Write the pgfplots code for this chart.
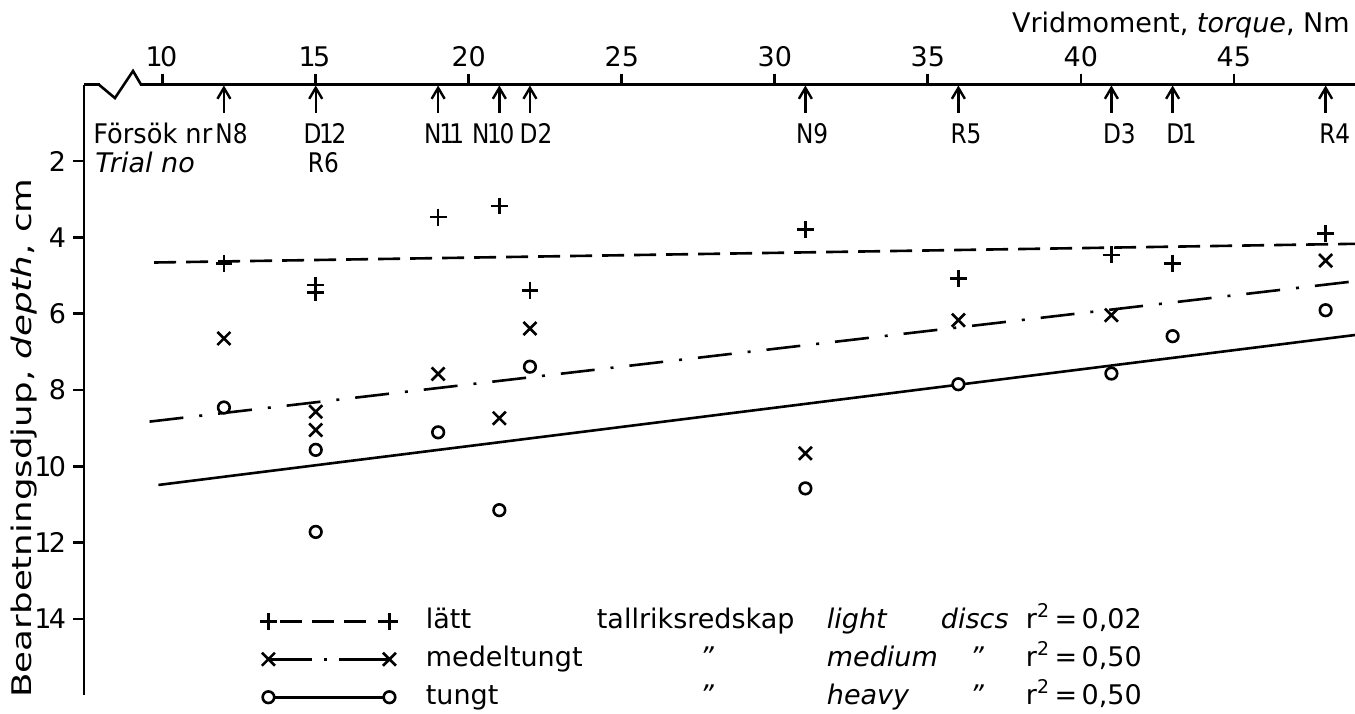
\documentclass[border=0pt]{standalone}
\usepackage{fontspec}
\setmainfont{DejaVu Sans}
\usepackage{graphicx}
\usepackage{pgfplots}
\pgfplotsset{compat=1.18}
\usetikzlibrary{arrows.meta}
\newcommand{\f}{\fontsize{13.5}{16}\selectfont}
\newcommand{\one}{\kern-0.1em1\kern-0.1em}
\newcommand{\nb}[1]{\scalebox{0.86}[1]{#1}}
\begin{document}
\begin{tikzpicture}[font=\f]
\begin{axis}[
  scale only axis, width=635.4pt, height=305.2pt,
  xmin=7.428, xmax=48.96, ymin=0, ymax=16,
  y dir=reverse,
  axis x line*=top, axis y line*=left,
  axis line style={line width=1.3pt, black},
  tick align=outside, major tick length=5.5pt,
  tick style={line width=1.3pt, black},
  xtick={10,15,...,45}, ytick={2,4,...,14},
  xticklabels={\one0,\one5,20,25,30,35,40,45},
  yticklabels={2,4,6,8,\one0,\one2,\one4},
  tick label style={font=\f},
  clip=false,
  legend style={draw=none, fill=none, inner sep=0pt, outer sep=0pt,
    at={(axis cs:13.18,13.72)}, anchor=north west,
    cells={anchor=west}, row sep=6pt, font=\f,
    nodes={inner sep=0pt, text height=10pt, text depth=3pt},
    /tikz/every odd column/.append style={column sep=14pt}},
]
% regression lines
\addplot[line width=1.3pt, dash pattern=on 11pt off 5pt,
  legend image code/.code={\draw[line width=1.3pt, dash pattern=on 0pt off 6pt on 11pt off 5pt on 11pt off 5pt on 11pt off 6pt on 6pt]
     plot[mark=+, mark size=4.2pt, mark options={solid}] coordinates {(0pt,0pt) (60.5pt,0pt)};}]
  coordinates {(9.72,4.66) (48.96,4.17)};
\addlegendentry{\makebox[85.5pt][l]{lätt}\makebox[115pt][l]{tallriksredskap}\makebox[57pt][l]{\textit{light}}\makebox[42.5pt][l]{\textit{discs}}r\textsuperscript{2}\,=\,0,02}
\addplot[line width=1.3pt, dash pattern=on 17pt off 8pt on 1.5pt off 8pt,
  legend image code/.code={\draw[line width=1.3pt, dash pattern=on 22pt off 6pt on 1.5pt off 6pt on 30pt]
     plot[mark=x, mark size=4.6pt, mark options={solid}] coordinates {(0pt,0pt) (60.5pt,0pt)};}]
  coordinates {(9.57,8.83) (48.96,5.15)};
\addlegendentry{\makebox[85.5pt][l]{medeltungt}\makebox[115pt][l]{\hspace*{51.5pt}\textit{"}}\makebox[57pt][l]{\textit{medium}}\makebox[42.5pt][l]{\hspace*{14.5pt}\textit{"}}r\textsuperscript{2}\,=\,0,50}
\addplot[line width=1.3pt,
  legend image code/.code={\draw[line width=1.3pt]
     plot[mark=*, mark size=2.9pt, mark options={solid, fill=white, draw=black}] coordinates {(0pt,0pt) (60.5pt,0pt)};}]
  coordinates {(9.86,10.49) (48.96,6.56)};
\addlegendentry{\makebox[85.5pt][l]{tungt}\makebox[115pt][l]{\hspace*{51.5pt}\textit{"}}\makebox[57pt][l]{\textit{heavy}}\makebox[42.5pt][l]{\hspace*{14.5pt}\textit{"}}r\textsuperscript{2}\,=\,0,50}
% data points
\addplot[only marks, mark=+, mark size=4.2pt, line width=1.3pt, forget plot] coordinates {
 (12,4.68) (15,5.25) (15,5.45) (19,3.47) (21,3.18) (22,5.40) (31,3.79) (36,5.08) (41,4.46) (43,4.68) (48,3.90)};
\addplot[only marks, mark=x, mark size=4.6pt, line width=1.3pt, forget plot] coordinates {
 (12,6.65) (15,8.57) (15,9.05) (19,7.58) (21,8.74) (22,6.39) (31,9.66) (36,6.17) (41,6.04) (48,4.61)};
\addplot[only marks, mark=*, mark size=2.9pt, line width=1.3pt, mark options={fill=white, draw=black}, forget plot] coordinates {
 (12,8.46) (15,9.57) (15,11.72) (19,9.11) (21,11.15) (22,7.39) (31,10.58) (36,7.85) (41,7.57) (43,6.59) (48,5.91)};
% trial arrows
\addplot[line width=1.2pt, -{Straight Barb[length=5.5pt,width=6.5pt]}, quiver={u=0,v=-0.72}, forget plot] coordinates {
 (12,0.74) (15,0.74) (19,0.74) (21,0.74) (22,0.74) (31,0.74) (36,0.74) (41,0.74) (43,0.74) (48,0.74)};
% texts
\begin{scope}[every node/.style={inner sep=0pt}]
\node[anchor=base east] at (axis cs:48.80,-1.38) {Vridmoment, \textit{torque}, Nm};
\node[anchor=base west] at (axis cs:7.72,1.53) {\scalebox{0.95}[1]{Försök nr}};
\node[anchor=base west] at (axis cs:7.79,2.29) {\textit{Trial no}};
\node[anchor=base] at (axis cs:12.25,1.53) {\nb{N8}};
\node[anchor=base] at (axis cs:15.3,1.53) {\nb{D\one2}};
\node[anchor=base] at (axis cs:15.25,2.29) {\nb{R6}};
\node[anchor=base] at (axis cs:19.16,1.53) {\nb{N\one\one}};
\node[anchor=base] at (axis cs:20.8,1.53) {\nb{N\one0}};
\node[anchor=base] at (axis cs:22.2,1.53) {\nb{D2}};
\node[anchor=base] at (axis cs:31.22,1.53) {\nb{N9}};
\node[anchor=base] at (axis cs:36.25,1.53) {\nb{R5}};
\node[anchor=base] at (axis cs:41.26,1.53) {\nb{D3}};
\node[anchor=base] at (axis cs:43.25,1.53) {\nb{D\one}};
\node[anchor=base] at (axis cs:48.3,1.53) {\nb{R4}};
\node[rotate=90, anchor=base] at (axis cs:5.696,9.26) {\scalebox{1.32}[1.0]{Bearbetningsdjup, \textit{depth}, cm}};
\end{scope}
\coordinate (z0) at (axis cs:7.95,0);
\coordinate (z1) at (axis cs:8.44,0.35);
\coordinate (z2) at (axis cs:9.03,-0.36);
\coordinate (z3) at (axis cs:9.26,0);
\coordinate (bbBL) at (axis cs:4.683,16.47);
\coordinate (bbTR) at (axis cs:48.96,-2.22);
\end{axis}
\fill[white] ([yshift=-1.6pt]z0) rectangle ([yshift=1.6pt]z3);
\draw[line width=1.3pt, line join=miter] ([xshift=-0.5pt]z0) -- (z1) -- (z2) -- ([xshift=0.5pt]z3);
\pgfresetboundingbox
\path[use as bounding box] (bbBL) rectangle (bbTR);
\end{tikzpicture}
\end{document}
